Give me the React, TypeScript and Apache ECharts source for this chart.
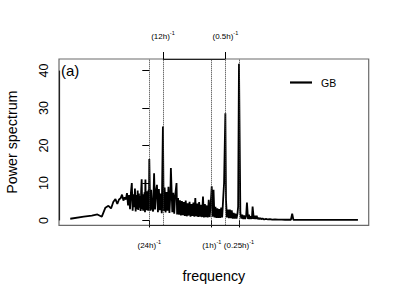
import React, { useEffect, useRef } from "react";
import * as echarts from "echarts";

// Frequencies in cycles per day, power spectrum values
const lowFreq = [
  0.0179, 0.0357, 0.0536, 0.0714, 0.0893, 0.1071, 0.125, 0.1429, 0.1607, 0.1786,
  0.1964, 0.2143, 0.2321, 0.25, 0.2679, 0.2857, 0.3036, 0.3214, 0.3393, 0.3571,
  0.375, 0.3929, 0.4107, 0.4286, 0.4464, 0.4643, 0.4821, 0.5, 0.5179, 0.5357,
  0.5536, 0.5714, 0.5893, 0.6071, 0.625, 0.6429, 0.6607, 0.6786, 0.6964, 0.7143,
  0.7321, 0.75, 0.7679, 0.7857, 0.8036, 0.8214, 0.8393, 0.8571, 0.875, 0.8929,
  0.9107, 0.9286, 0.9464, 0.9643, 0.9821,
];
const lowPower = [
  0.45, 1.0, 1.3, 1.6, 1.0, 3.4, 3.9, 3.2, 5.0, 5.7,
  4.4, 5.6, 5.9, 6.9, 5.3, 6.2, 5.6, 7.3, 4.0, 6.8,
  3.0, 7.5, 10.0, 2.6, 7.0, 3.5, 8.5, 2.4, 6.8, 3.0,
  8.0, 2.8, 7.2, 3.4, 6.5, 2.5, 7.8, 11.0, 3.0, 7.0,
  2.6, 6.3, 3.2, 7.5, 2.2, 10.9, 3.0, 7.0, 2.7, 7.8,
  3.1, 6.5, 2.6, 8.2, 3.0,
];
const midFreq = [
  1.0, 1.05, 1.103, 1.158, 1.216, 1.276, 1.34, 1.407, 1.477, 1.551,
  1.629, 1.71, 1.796, 1.886, 2.0, 2.079, 2.183, 2.292, 2.407, 2.527,
  2.653, 2.786, 2.925, 3.0, 3.225, 3.386, 3.556, 3.733, 4.0, 4.116,
  4.322, 4.538, 4.765, 5.003, 5.253, 5.516, 5.792, 6.081, 6.385, 6.705,
  7.04, 7.392, 7.762, 8.15, 8.557, 8.985, 9.434, 9.906, 10.4, 10.92,
  11.47, 12.04, 12.64, 13.27, 13.94, 14.64, 15.37, 16.13, 16.94, 17.79,
  18.68, 19.61, 20.59, 21.62, 22.7, 24.0, 25.03, 26.28, 27.6, 28.98,
  30.43, 31.95, 33.55, 35.22, 36.98, 38.83, 40.77, 42.81, 44.95, 48.0,
  49.56, 52.04, 54.64, 57.37, 60.24, 63.25, 66.42, 69.74, 73.22, 76.88,
  80.73, 84.77, 89.0, 92.0, 96.0, 103.0, 108.2, 113.6, 119.3, 125.2,
  131.5, 138.1, 144.0, 152.2, 159.8, 167.8, 176.2, 185.0, 192.0, 204.0,
  214.2, 224.9, 236.2, 248.0, 260.4, 273.4, 287.1, 301.4,
];
const midPower = [
  16.4, 2.6, 8.2, 3.0, 2.4, 12.6, 2.9, 7.8, 9.5, 2.2,
  8.4, 2.7, 7.2, 1.9, 25.1, 2.5, 8.8, 2.1, 7.6, 2.6,
  9.0, 2.0, 7.0, 14.0, 2.2, 7.4, 1.8, 6.6, 10.0, 1.6,
  6.0, 1.5, 5.4, 1.3, 5.2, 1.4, 4.9, 1.2, 5.3, 1.1,
  4.6, 1.3, 5.0, 1.0, 4.4, 1.2, 4.8, 1.0, 6.0, 1.1,
  4.5, 0.9, 4.9, 1.0, 4.2, 0.9, 6.4, 0.8, 4.4, 0.9,
  4.0, 0.8, 5.5, 0.9, 4.3, 9.1, 1.0, 8.2, 0.8, 3.6,
  0.7, 3.2, 0.7, 3.0, 0.7, 3.4, 0.8, 5.5, 10.0, 28.6,
  5.5, 0.8, 2.9, 0.6, 2.9, 0.6, 2.7, 0.5, 2.0, 0.5,
  1.8, 0.5, 1.8, 3.7, 41.8, 2.0, 0.5, 1.5, 0.4, 1.3,
  0.4, 1.2, 4.8, 0.4, 1.5, 0.4, 1.1, 0.4, 3.7, 0.4,
  1.25, 0.35, 1.25, 0.35, 0.7, 0.3, 0.64, 0.3,
];
const tailFreq = [
  320, 345, 380, 420, 465, 520, 600, 700, 850, 1000,
  1200, 1350, 1440, 1530, 2000, 3000, 6000, 12000, 25000, 40900,
];
const tailPower = [
  0.5, 0.25, 0.4, 0.25, 0.37, 0.22, 0.3, 0.2, 0.22, 0.18,
  0.2, 0.18, 1.8, 0.18, 0.17, 0.16, 0.15, 0.15, 0.15, 0.15,
];

const bottomTickFreqs = [1, 24, 96];
const bottomTickLabels = ["(24h)", "(1h)", "(0.25h)"];
const topTickFreqs = [2, 48];
const topTickLabels = ["(12h)", "(0.5h)"];
const yTicks = [0, 10, 20, 30, 40];
const seriesName = "GB";
const panelLabel = "(a)";
const xTitle = "frequency";
const yTitle = "Power spectrum";

// axis range, in cycles per day (x, log scale) and power (y)
const X_MIN = 0.0101;
const X_MAX = 70700;
const Y_MIN = -1.3;
const Y_MAX = 43.1;

const FONT = "'Liberation Sans', Arial, Helvetica, sans-serif";
const lg = (f: number) => Math.log2(f);

function buildOption() {
  const data: [number, number][] = [];
  lowFreq.forEach((f, i) => data.push([lg(f), lowPower[i]]));
  midFreq.forEach((f, i) => data.push([lg(f), midPower[i]]));
  tailFreq.forEach((f, i) => data.push([lg(f), tailPower[i]]));

  const rich = {
    b: { fontSize: 8, lineHeight: 12, color: "#000", fontFamily: FONT },
    sup: { fontSize: 5.5, lineHeight: 5, verticalAlign: "top", color: "#000", fontFamily: FONT },
  };
  const makeFormatter = (freqs: number[], labels: string[]) => (v: number) => {
    for (let i = 0; i < freqs.length; i++) {
      if (Math.abs(lg(freqs[i]) - v) < 1e-6) return `{b|${labels[i]}}{sup|-1}`;
    }
    return "";
  };
  const dotted = { type: "dotted", color: "#333", width: 1 };
  const solid = { type: "solid", color: "#222", width: 1.2 };

  const xCommon = {
    type: "value",
    gridIndex: 0,
    min: lg(X_MIN),
    max: lg(X_MAX),
    axisLine: { show: false },
    splitLine: { show: false },
  };

  return {
    animation: false,
    textStyle: { fontFamily: FONT },
    grid: [
      {
        left: 59,
        top: 59,
        width: 309.7,
        height: 166.3,
        containLabel: false,
        outerBoundsMode: "none",
        show: true,
        borderColor: "#6a6a6a",
        borderWidth: 1.2,
      },
    ],
    legend: {
      show: true,
      data: [seriesName],
      left: 290,
      top: 77,
      padding: 0,
      icon: "rect",
      itemWidth: 22,
      itemHeight: 2.2,
      itemStyle: { color: "#000" },
      textStyle: { fontSize: 10.5, color: "#000", padding: [0, 0, 0, 4] },
    },
    graphic: [
      {
        type: "text",
        left: 61,
        top: 63,
        style: { text: panelLabel, fontSize: 15, fill: "#000", fontFamily: FONT },
      },
    ],
    xAxis: [
      {
        ...xCommon,
        position: "bottom",
        axisTick: {
          show: true,
          length: 7,
          lineStyle: { color: "#000", width: 1 },
          customValues: bottomTickFreqs.map(lg),
        },
        axisLabel: {
          show: true,
          margin: 14,
          customValues: bottomTickFreqs.map(lg),
          formatter: makeFormatter(bottomTickFreqs, bottomTickLabels),
          rich,
        },
        name: xTitle,
        nameLocation: "middle",
        nameGap: 44,
        nameTextStyle: { fontSize: 14.3, color: "#000" },
      },
      {
        ...xCommon,
        position: "top",
        axisTick: {
          show: true,
          length: 7,
          lineStyle: { color: "#000", width: 1 },
          customValues: topTickFreqs.map(lg),
        },
        axisLabel: {
          show: true,
          margin: 17,
          customValues: topTickFreqs.map(lg),
          formatter: makeFormatter(topTickFreqs, topTickLabels),
          rich,
        },
      },
    ],
    yAxis: [
      {
        type: "value",
        gridIndex: 0,
        min: Y_MIN,
        max: Y_MAX,
        axisLine: { show: false },
        splitLine: { show: false },
        axisTick: {
          show: true,
          length: 7,
          lineStyle: { color: "#000", width: 1 },
          customValues: yTicks,
        },
        axisLabel: {
          show: true,
          rotate: 90,
          margin: 9,
          fontSize: 12.5,
          color: "#000",
          customValues: yTicks,
        },
        name: yTitle,
        nameLocation: "middle",
        nameRotate: 90,
        nameGap: 40,
        nameTextStyle: { fontSize: 14.3, color: "#000" },
      },
    ],
    series: [
      {
        name: seriesName,
        type: "line",
        xAxisIndex: 0,
        yAxisIndex: 0,
        data,
        symbol: "none",
        showSymbol: false,
        clip: false,
        lineStyle: { color: "#000", width: 1.8 },
        itemStyle: { color: "#000" },
        markLine: {
          silent: true,
          symbol: ["none", "none"],
          label: { show: false },
          data: [
            ...bottomTickFreqs.map((f) => ({ xAxis: lg(f), lineStyle: dotted })),
            ...topTickFreqs.map((f) => ({ xAxis: lg(f), lineStyle: dotted })),
            [
              { coord: [lg(bottomTickFreqs[0]), Y_MIN], lineStyle: solid },
              { coord: [lg(bottomTickFreqs[bottomTickFreqs.length - 1]), Y_MIN] },
            ],
            [
              { coord: [lg(topTickFreqs[0]), Y_MAX], lineStyle: solid },
              { coord: [lg(topTickFreqs[topTickFreqs.length - 1]), Y_MAX] },
            ],
            [
              { coord: [lg(X_MIN), yTicks[0]], lineStyle: solid },
              { coord: [lg(X_MIN), yTicks[yTicks.length - 1]] },
            ],
          ],
        },
      },
    ],
  };
}

export default function App() {
  const ref = useRef<HTMLDivElement>(null);
  useEffect(() => {
    if (!ref.current) return;
    const chart = echarts.init(ref.current, undefined, { renderer: "svg" });
    chart.setOption(buildOption() as any);
    return () => chart.dispose();
  }, []);
  return (
    <div
      ref={ref}
      style={{ position: "fixed", left: 0, top: 0, width: 400, height: 300, background: "#fff" }}
    />
  );
}
